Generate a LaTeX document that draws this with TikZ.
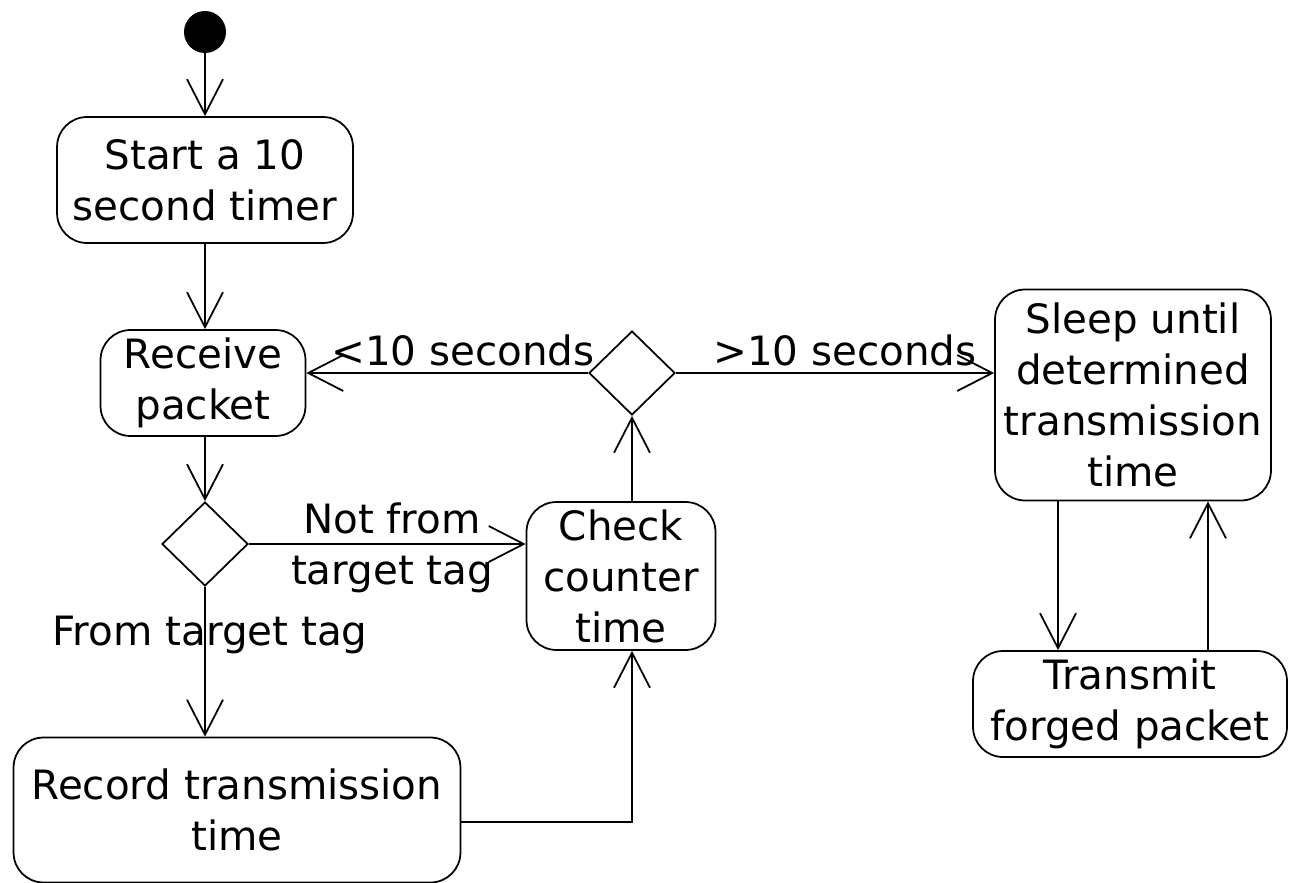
\documentclass[tikz,border=0pt]{standalone}
\usepackage{fontspec}
\setmainfont{DejaVu Sans}
\usetikzlibrary{shapes.geometric,arrows.meta}

\tikzset{
  action/.style={draw, rounded corners=0.6cm, align=center, line width=1pt, inner sep=0pt},
  choice/.style={draw, diamond, minimum width=1.72cm, minimum height=1.68cm, inner sep=0pt, line width=1pt},
  flow/.style={line width=1pt, -{Straight Barb[length=0.7cm,width=0.72cm,line width=1pt]}},
  lbl/.style={align=center, inner sep=0pt}
}

\begin{document}
\begin{tikzpicture}[x=0.02cm, y=-0.02cm, font=\fontsize{23}{29}\selectfont]
            \useasboundingbox (0,0) rectangle (1289,883);

            % left column
            \node[fill=black, circle, minimum size=0.84cm, inner sep=0pt] (init) at (205,32) {};
            \node[action, minimum width=5.92cm, minimum height=2.52cm] (timer) at (205,180) {Start a 10\\second timer};
            \node[action, minimum width=4.1cm, minimum height=2.12cm] (recv) at (203,383) {Receive\\packet};
            \node[choice] (dec1) at (205,544) {};
            \node[action, minimum width=8.94cm, minimum height=2.9cm] (rec) at (237,810) {Record transmission\\time};

            % middle
            \node[action, minimum width=3.78cm, minimum height=2.96cm] (chk) at (621,576) {Check\\counter\\time};
            \node[choice] (dec2) at (632,373) {};

            % right column
            \node[action, minimum width=5.52cm, minimum height=4.22cm] (sleep) at (1133,395) {Sleep until\\determined\\transmission\\time};
            \node[action, minimum width=6.28cm, minimum height=2.12cm] (xmit) at (1130,704) {Transmit\\forged packet};

            % guards
            \node[lbl] (lnot) at (392,548) {Not from\\target tag};
            \node[lbl] (lfrom) at (210,635) {From target tag};
            \node[lbl] (lless) at (463,350) {<10 seconds};
            \node[lbl] (lmore) at (845,350) {>10 seconds};

            % control flow
            \draw[flow] (init) -- (timer);
            \draw[flow] (timer.south -| init) -- (recv.north -| init);
            \draw[flow] (recv.south -| dec1.north) -- (dec1.north);
            \draw[flow] (dec1.south) -- (rec.north -| dec1.south);
            \draw[flow] (dec1.east) -- (chk.west |- dec1.east);
            \draw[flow] ([yshift=-0.24cm]rec.east) -| (dec2.south |- chk.south);
            \draw[flow] (dec2.south |- chk.north) -- (dec2.south);
            \draw[flow] (dec2.west) -- (dec2.west -| recv.east);
            \draw[flow] (dec2.east) -- (dec2.east -| sleep.west);
            \draw[flow] ([xshift=-1.5cm]sleep.south) -- ([xshift=-1.5cm]sleep.south |- xmit.north);
            \draw[flow] ([xshift=1.5cm]sleep.south |- xmit.north) -- ([xshift=1.5cm]sleep.south);

        \end{tikzpicture}
\end{document}
